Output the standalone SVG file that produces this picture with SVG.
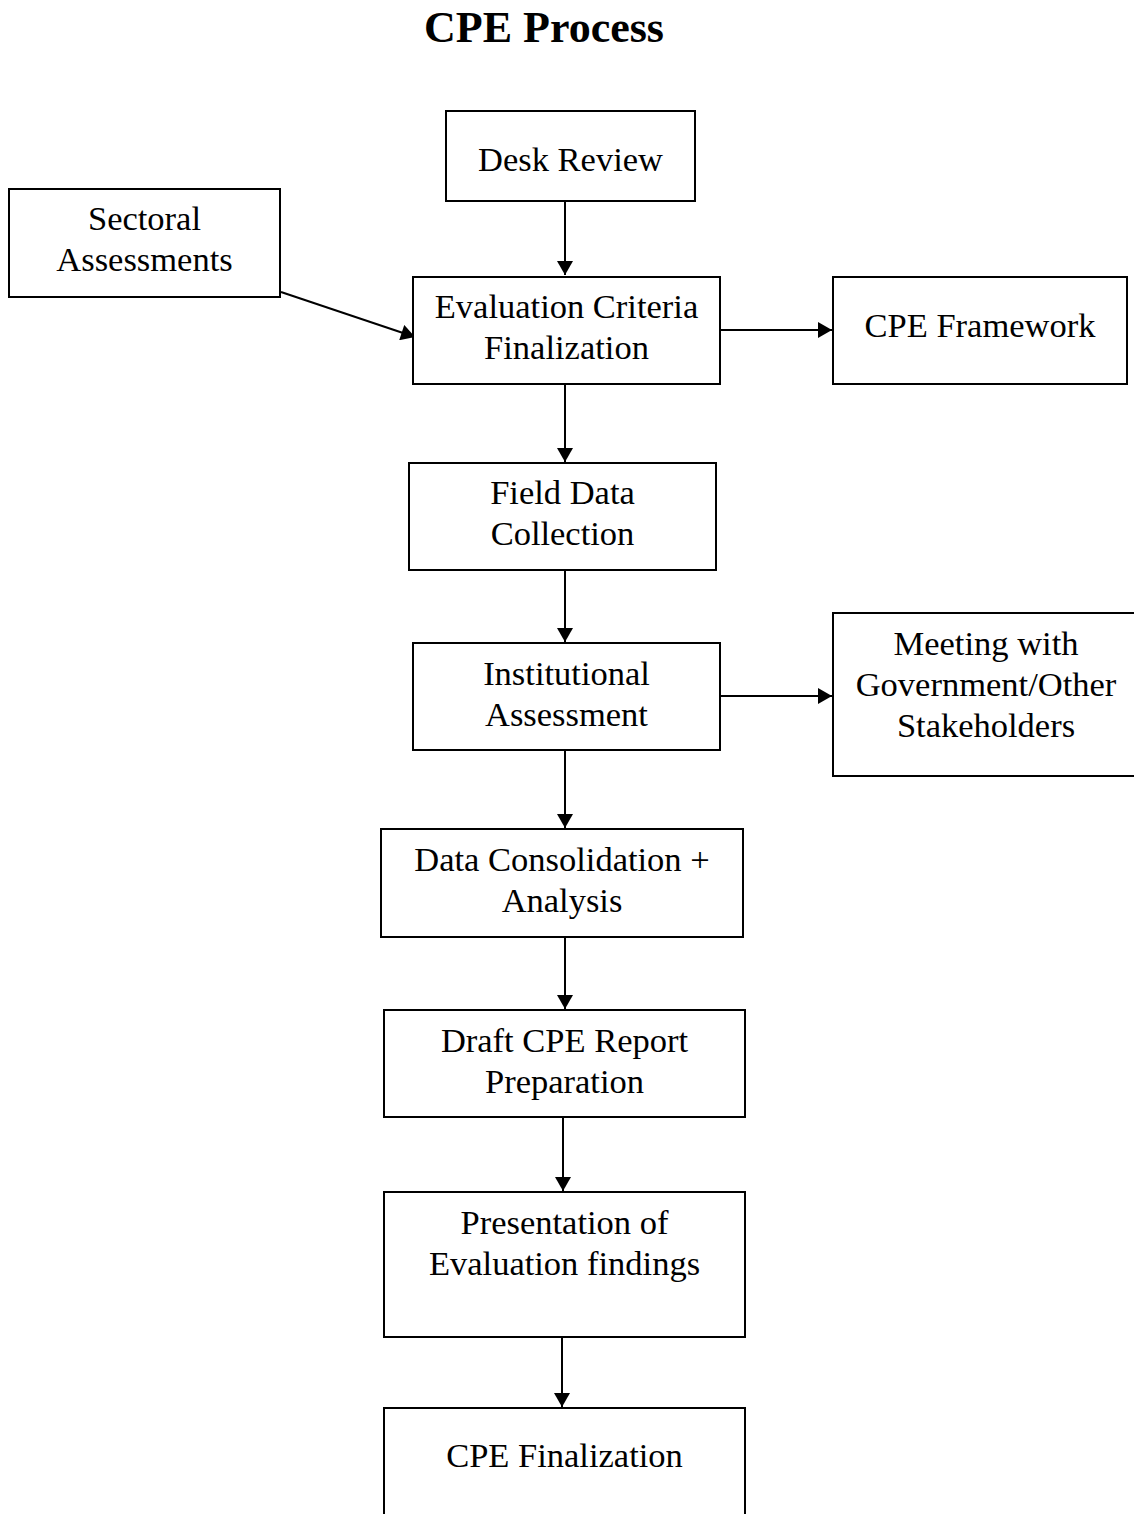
<svg xmlns="http://www.w3.org/2000/svg" width="1134" height="1514" viewBox="0 0 1134 1514">
<style>
.box{fill:#fff;stroke:#000;stroke-width:2}
.t{font-family:"Liberation Serif","Times New Roman",serif;font-size:34.5px;fill:#000;text-anchor:middle}
.title{font-family:"Liberation Serif","Times New Roman",serif;font-size:44px;font-weight:bold;fill:#000;text-anchor:middle}
.c{stroke:#000;stroke-width:2;fill:none;marker-end:url(#ah)}
</style>
<defs>
<marker id="ah" markerUnits="userSpaceOnUse" markerWidth="16" markerHeight="16" viewBox="0 0 14 16" refX="14" refY="8" orient="auto">
<path d="M0,0 L14,8 L0,16 Z" fill="#000"/>
</marker>
</defs>
<rect width="1134" height="1514" fill="#fff"/>
<text class="title" x="544" y="42">CPE Process</text>
<g id="connectors">
<line class="c" x1="565" y1="202" x2="565" y2="275"/>
<line class="c" x1="281" y1="292" x2="415" y2="337"/>
<line class="c" x1="721" y1="330" x2="832" y2="330"/>
<line class="c" x1="565" y1="385" x2="565" y2="462"/>
<line class="c" x1="565" y1="571" x2="565" y2="642"/>
<line class="c" x1="721" y1="696" x2="832" y2="696"/>
<line class="c" x1="565" y1="751" x2="565" y2="828"/>
<line class="c" x1="565" y1="938" x2="565" y2="1009"/>
<line class="c" x1="563" y1="1118" x2="563" y2="1191"/>
<line class="c" x1="562" y1="1338" x2="562" y2="1407"/>
</g>
<g id="desk-review">
<rect class="box" x="446" y="111" width="249" height="90"/>
<text class="t" x="570.5" y="171">Desk Review</text>
</g>
<g id="sectoral-assessments">
<rect class="box" x="9" y="189" width="271" height="108"/>
<text class="t" x="144.5" y="230">Sectoral</text>
<text class="t" x="144.5" y="271">Assessments</text>
</g>
<g id="evaluation-criteria">
<rect class="box" x="413" y="277" width="307" height="107"/>
<text class="t" x="566.5" y="318">Evaluation Criteria</text>
<text class="t" x="566.5" y="359">Finalization</text>
</g>
<g id="cpe-framework">
<rect class="box" x="833" y="277" width="294" height="107"/>
<text class="t" x="980" y="337">CPE Framework</text>
</g>
<g id="field-data">
<rect class="box" x="409" y="463" width="307" height="107"/>
<text class="t" x="562.5" y="504">Field Data</text>
<text class="t" x="562.5" y="545">Collection</text>
</g>
<g id="institutional-assessment">
<rect class="box" x="413" y="643" width="307" height="107"/>
<text class="t" x="566.5" y="685">Institutional</text>
<text class="t" x="566.5" y="726">Assessment</text>
</g>
<g id="meeting">
<rect class="box" x="833" y="613" width="307" height="163"/>
<text class="t" x="986" y="655">Meeting with</text>
<text class="t" x="986" y="696">Government/Other</text>
<text class="t" x="986" y="737">Stakeholders</text>
</g>
<g id="data-consolidation">
<rect class="box" x="381" y="829" width="362" height="108"/>
<text class="t" x="562" y="871">Data Consolidation +</text>
<text class="t" x="562" y="912">Analysis</text>
</g>
<g id="draft-report">
<rect class="box" x="384" y="1010" width="361" height="107"/>
<text class="t" x="564.5" y="1052">Draft CPE Report</text>
<text class="t" x="564.5" y="1093">Preparation</text>
</g>
<g id="presentation">
<rect class="box" x="384" y="1192" width="361" height="145"/>
<text class="t" x="564.5" y="1234">Presentation of</text>
<text class="t" x="564.5" y="1275">Evaluation findings</text>
</g>
<g id="cpe-finalization">
<rect class="box" x="384" y="1408" width="361" height="120"/>
<text class="t" x="564.5" y="1467">CPE Finalization</text>
</g>
</svg>
